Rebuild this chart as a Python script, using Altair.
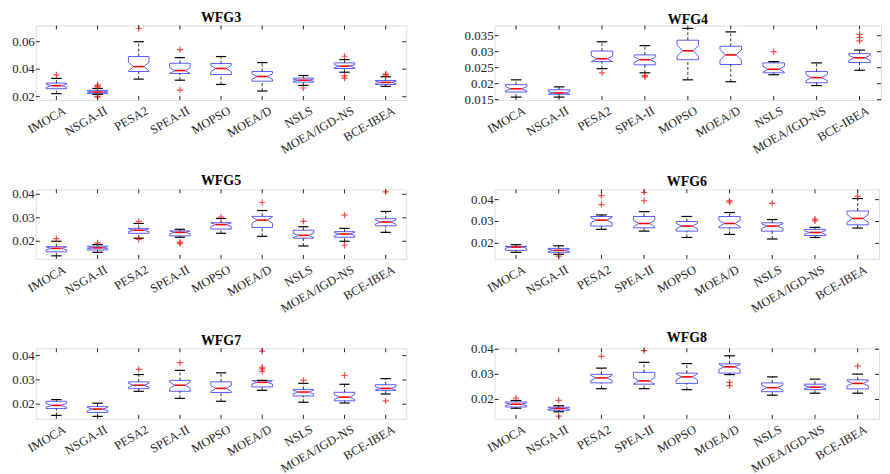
import math
import altair as alt
import pandas as pd

ALGS = ["IMOCA", "NSGA-II", "PESA2", "SPEA-II", "MOPSO", "MOEA/D", "NSLS", "MOEA/IGD-NS", "BCE-IBEA"]

# ---- WFG3 ----
WFG3_LOWER = [0.0222, 0.0217, 0.0328, 0.0320, 0.0289, 0.0241, 0.0282, 0.0378, 0.0275]
WFG3_Q1 = [0.0258, 0.0222, 0.0383, 0.0369, 0.0361, 0.0313, 0.0306, 0.0405, 0.0289]
WFG3_MED = [0.0280, 0.0234, 0.0419, 0.0390, 0.0405, 0.0347, 0.0320, 0.0422, 0.0304]
WFG3_Q3 = [0.0299, 0.0246, 0.0492, 0.0443, 0.0441, 0.0383, 0.0335, 0.0446, 0.0318]
WFG3_UPPER = [0.0333, 0.0260, 0.0600, 0.0484, 0.0492, 0.0448, 0.0354, 0.0470, 0.0345]
WFG3_OUT = [[0.0359], [0.0285, 0.0278, 0.0272, 0.0203, 0.0197], [0.0696], [0.0542, 0.0248],
            [], [], [0.0263], [0.0494, 0.0352, 0.0335], [0.0364, 0.0358]]
WFG3_TICKS = [0.02, 0.04, 0.06]
WFG3_TICKLABELS = ["0.02", "0.04", "0.06"]

# ---- WFG4 ----
WFG4_LOWER = [0.0158, 0.0158, 0.0247, 0.0234, 0.0212, 0.0206, 0.0228, 0.0194, 0.0242]
WFG4_Q1 = [0.0174, 0.0167, 0.0269, 0.0259, 0.0275, 0.0260, 0.0234, 0.0203, 0.0266]
WFG4_MED = [0.0184, 0.0171, 0.0278, 0.0275, 0.0303, 0.0290, 0.0245, 0.0219, 0.0281]
WFG4_Q3 = [0.0197, 0.0181, 0.0302, 0.0290, 0.0336, 0.0317, 0.0265, 0.0238, 0.0294]
WFG4_UPPER = [0.0212, 0.0190, 0.0331, 0.0319, 0.0373, 0.0362, 0.0269, 0.0265, 0.0305]
WFG4_OUT = [[], [], [0.0234], [0.0225, 0.0221], [], [], [0.0300], [], [0.0354, 0.0345, 0.0334]]
WFG4_TICKS = [0.015, 0.02, 0.025, 0.03, 0.035]
WFG4_TICKLABELS = ["0.015", "0.02", "0.025", "0.03", "0.035"]

# ---- WFG5 ----
WFG5_LOWER = [0.0138, 0.0153, 0.0213, 0.0217, 0.0234, 0.0221, 0.0180, 0.0200, 0.0238]
WFG5_Q1 = [0.0155, 0.0163, 0.0234, 0.0223, 0.0252, 0.0259, 0.0213, 0.0217, 0.0266]
WFG5_MED = [0.0170, 0.0172, 0.0247, 0.0238, 0.0271, 0.0290, 0.0225, 0.0231, 0.0282]
WFG5_Q3 = [0.0177, 0.0179, 0.0255, 0.0244, 0.0279, 0.0306, 0.0247, 0.0241, 0.0296]
WFG5_UPPER = [0.0200, 0.0186, 0.0276, 0.0251, 0.0297, 0.0331, 0.0262, 0.0255, 0.0327]
WFG5_OUT = [[0.0211], [0.0193], [0.0285, 0.0208], [0.0196, 0.0190], [0.0303], [0.0365],
            [0.0285], [0.0311, 0.0183], [0.0410]]
WFG5_TICKS = [0.02, 0.03, 0.04]
WFG5_TICKLABELS = ["0.02", "0.03", "0.04"]

# ---- WFG6 ----
WFG6_LOWER = [0.0159, 0.0150, 0.0264, 0.0256, 0.0227, 0.0241, 0.0220, 0.0227, 0.0270]
WFG6_Q1 = [0.0168, 0.0159, 0.0279, 0.0271, 0.0256, 0.0271, 0.0256, 0.0236, 0.0285]
WFG6_MED = [0.0183, 0.0168, 0.0306, 0.0291, 0.0279, 0.0291, 0.0279, 0.0250, 0.0314]
WFG6_Q3 = [0.0186, 0.0177, 0.0323, 0.0323, 0.0300, 0.0323, 0.0294, 0.0264, 0.0348]
WFG6_UPPER = [0.0194, 0.0189, 0.0330, 0.0345, 0.0323, 0.0341, 0.0309, 0.0273, 0.0405]
WFG6_OUT = [[], [0.0142], [0.0418, 0.0377], [0.0433, 0.0395], [], [0.0395, 0.0389], [0.0383],
            [0.0311, 0.0303], [0.0415]]
WFG6_TICKS = [0.02, 0.03, 0.04]
WFG6_TICKLABELS = ["0.02", "0.03", "0.04"]

# ---- WFG7 ----
WFG7_LOWER = [0.0154, 0.0150, 0.0253, 0.0224, 0.0212, 0.0257, 0.0208, 0.0205, 0.0242]
WFG7_Q1 = [0.0182, 0.0166, 0.0264, 0.0253, 0.0248, 0.0271, 0.0234, 0.0214, 0.0257]
WFG7_MED = [0.0195, 0.0180, 0.0278, 0.0278, 0.0265, 0.0290, 0.0250, 0.0229, 0.0265]
WFG7_Q3 = [0.0212, 0.0190, 0.0292, 0.0298, 0.0292, 0.0297, 0.0261, 0.0249, 0.0280]
WFG7_UPPER = [0.0219, 0.0204, 0.0322, 0.0339, 0.0329, 0.0298, 0.0286, 0.0282, 0.0305]
WFG7_OUT = [[], [], [0.0343], [0.0371], [], [0.0418, 0.0352, 0.0345, 0.0335], [0.0298], [0.0318], [0.0214]]
WFG7_TICKS = [0.02, 0.03, 0.04]
WFG7_TICKLABELS = ["0.02", "0.03", "0.04"]

# ---- WFG8 ----
WFG8_LOWER = [0.0165, 0.0151, 0.0243, 0.0243, 0.0239, 0.0299, 0.0217, 0.0225, 0.0225]
WFG8_Q1 = [0.0170, 0.0157, 0.0266, 0.0261, 0.0264, 0.0305, 0.0231, 0.0239, 0.0242]
WFG8_MED = [0.0181, 0.0164, 0.0286, 0.0274, 0.0290, 0.0330, 0.0247, 0.0249, 0.0264]
WFG8_Q3 = [0.0190, 0.0169, 0.0300, 0.0308, 0.0305, 0.0342, 0.0266, 0.0261, 0.0278]
WFG8_UPPER = [0.0196, 0.0175, 0.0325, 0.0348, 0.0343, 0.0374, 0.0290, 0.0281, 0.0301]
WFG8_OUT = [[0.0205], [0.0196, 0.0134], [0.0372], [0.0395], [], [0.0268, 0.0255], [], [], [0.0333]]
WFG8_TICKS = [0.02, 0.03, 0.04]
WFG8_TICKLABELS = ["0.02", "0.03", "0.04"]

N_RUNS = 30
FONT = "Liberation Serif"
LABEL_EXPR = "[" + ",".join("'%s'" % a for a in ALGS) + "][datum.value - 1]"
PLUS = "M-1,0L1,0M0,-1L0,1"
TXT = "#262626"


def panel(title, lower, q1, med, q3, upper, outs, domain, ticks, ticklabels, width, height):
    w, wn, wc = 0.25, 0.125, 0.125
    poly, whisk, caps, meds, pts = [], [], [], [], []
    for k in range(len(ALGS)):
        i = k + 1
        notch = 1.57 * (q3[k] - q1[k]) / math.sqrt(N_RUNS)
        shape = [(i - w, q1[k]), (i - w, med[k] - notch), (i - wn, med[k]), (i - w, med[k] + notch),
                 (i - w, q3[k]), (i + w, q3[k]), (i + w, med[k] + notch), (i + wn, med[k]),
                 (i + w, med[k] - notch), (i + w, q1[k]), (i - w, q1[k])]
        for o, (px, py) in enumerate(shape):
            poly.append({"alg": ALGS[k], "o": o, "x": px, "y": py})
        whisk.append({"x": i, "y": q3[k], "y2": upper[k]})
        whisk.append({"x": i, "y": lower[k], "y2": q1[k]})
        caps.append({"x": i - wc, "x2": i + wc, "y": upper[k]})
        caps.append({"x": i - wc, "x2": i + wc, "y": lower[k]})
        meds.append({"x": i - wn, "x2": i + wn, "y": med[k]})
        for v in outs[k]:
            pts.append({"x": i, "y": v})

    xenc = alt.X("x:Q", scale=alt.Scale(domain=[0.5, 9.5], nice=False, zero=False),
                 axis=alt.Axis(values=list(range(1, 10)), labelExpr=LABEL_EXPR, labelAngle=-30,
                               labelAlign="right", labelBaseline="top", ticks=False, domain=False,
                               grid=False, title=None, labelPadding=4, labelOffset=5, labelFont=FONT,
                               labelFontSize=12.5, labelColor=TXT, labelOverlap=False))
    yenc = alt.Y("y:Q", scale=alt.Scale(domain=domain, nice=False, zero=False), axis=None)

    box = alt.Chart(pd.DataFrame(poly)).mark_line(color="#5b5bff", strokeWidth=1).encode(
        x=xenc, y=yenc, detail="alg:N", order="o:Q")
    wh = alt.Chart(pd.DataFrame(whisk)).mark_rule(color="black", strokeWidth=0.8, strokeDash=[3, 2]).encode(
        x="x:Q", y="y:Q", y2="y2:Q")
    cp = alt.Chart(pd.DataFrame(caps)).mark_rule(color="black", strokeWidth=1.2).encode(
        x="x:Q", x2="x2:Q", y="y:Q")
    md = alt.Chart(pd.DataFrame(meds)).mark_rule(color="red", strokeWidth=1.6).encode(
        x="x:Q", x2="x2:Q", y="y:Q")
    layers = [box, wh, cp, md]
    if pts:
        layers.append(alt.Chart(pd.DataFrame(pts)).mark_point(
            shape=PLUS, size=40, color="red", filled=False, strokeWidth=1.2).encode(x="x:Q", y="y:Q"))
    xt = pd.DataFrame({"x": list(range(1, 10))})
    yt = pd.DataFrame({"y": ticks, "label": ticklabels})
    layers.append(alt.Chart(xt).mark_rule(color=TXT).encode(x="x:Q", y=alt.value(0), y2=alt.value(4)))
    layers.append(alt.Chart(xt).mark_rule(color=TXT).encode(
        x="x:Q", y=alt.value(height), y2=alt.value(height - 4)))
    layers.append(alt.Chart(yt).mark_rule(color=TXT).encode(y="y:Q", x=alt.value(0), x2=alt.value(4)))
    layers.append(alt.Chart(yt).mark_rule(color=TXT).encode(
        y="y:Q", x=alt.value(width - 4), x2=alt.value(width)))
    layers.append(alt.Chart(yt).mark_text(align="right", baseline="middle", font=FONT, fontSize=13,
                                          color=TXT, dx=-1).encode(y="y:Q", x=alt.value(0), text="label:N"))
    return alt.layer(*layers).properties(
        width=width, height=height,
        title=alt.TitleParams(title, font=FONT, fontSize=14, fontWeight="bold", color="black",
                              offset=-2, frame="group", anchor="middle"))


p3 = panel("WFG3", WFG3_LOWER, WFG3_Q1, WFG3_MED, WFG3_Q3, WFG3_UPPER, WFG3_OUT,
           [0.0176, 0.0718], WFG3_TICKS, WFG3_TICKLABELS, 373, 75)
p4 = panel("WFG4", WFG4_LOWER, WFG4_Q1, WFG4_MED, WFG4_Q3, WFG4_UPPER, WFG4_OUT,
           [0.0149, 0.0382], WFG4_TICKS, WFG4_TICKLABELS, 389, 75)
p5 = panel("WFG5", WFG5_LOWER, WFG5_Q1, WFG5_MED, WFG5_Q3, WFG5_UPPER, WFG5_OUT,
           [0.0125, 0.0421], WFG5_TICKS, WFG5_TICKLABELS, 373, 70)
p6 = panel("WFG6", WFG6_LOWER, WFG6_Q1, WFG6_MED, WFG6_Q3, WFG6_UPPER, WFG6_OUT,
           [0.0129, 0.0447], WFG6_TICKS, WFG6_TICKLABELS, 387, 70)
p7 = panel("WFG7", WFG7_LOWER, WFG7_Q1, WFG7_MED, WFG7_Q3, WFG7_UPPER, WFG7_OUT,
           [0.0140, 0.0430], WFG7_TICKS, WFG7_TICKLABELS, 373, 71)
p8 = panel("WFG8", WFG8_LOWER, WFG8_Q1, WFG8_MED, WFG8_Q3, WFG8_UPPER, WFG8_OUT,
           [0.0123, 0.0404], WFG8_TICKS, WFG8_TICKLABELS, 387, 71)

chart = alt.concat(p3, p4, p5, p6, p7, p8, columns=2, spacing={"row": 90, "column": 89},
                   bounds="flush", align="none").properties(
    padding={"left": 3, "top": 0, "right": 0, "bottom": 0}
).configure_view(stroke=TXT, strokeWidth=1).configure(background="white")

chart.save("out.html", embed_options={"renderer": "svg", "actions": False})
